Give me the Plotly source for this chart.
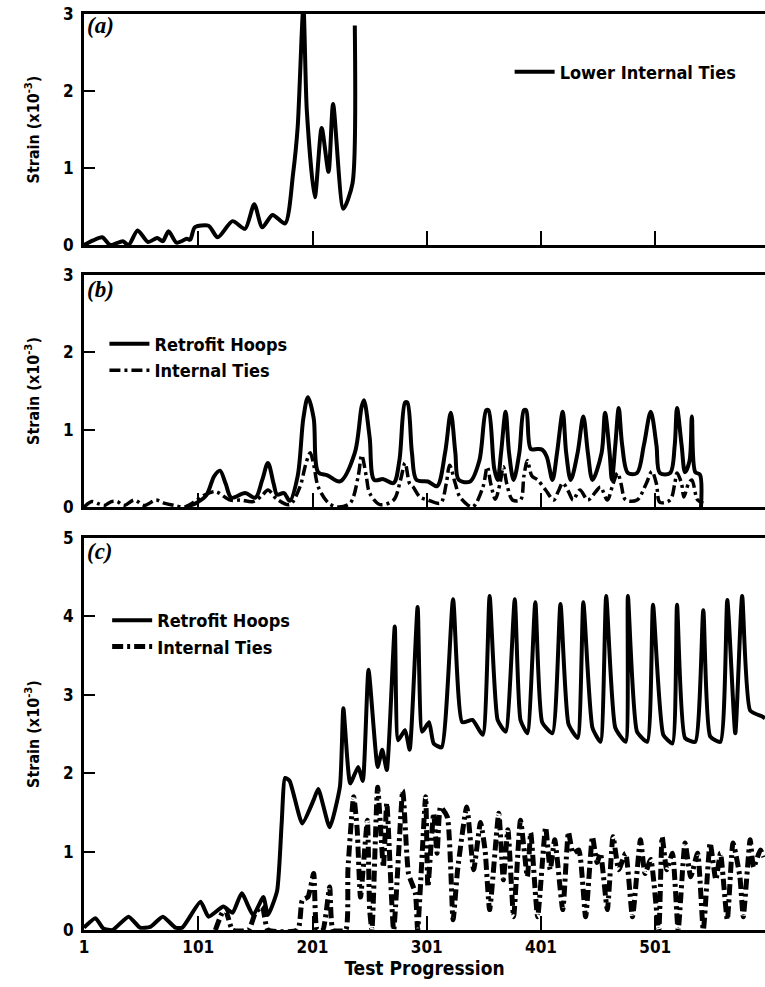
import plotly.graph_objects as go

# ---------------- data ----------------
# Panel (a): Lower internal ties
a_x = [1, 9, 17, 24, 35, 40, 48, 57, 65, 70, 75, 82, 91, 94, 98, 110, 118, 131, 142, 150,
       157, 166, 177, 184, 188, 193, 196, 203, 209, 215, 219, 228, 236, 238]
a_ties = [0, 0.06, 0.1, 0, 0.05, 0, 0.19, 0.04, 0.09, 0.05, 0.18, 0.03, 0.08, 0.07, 0.23, 0.25,
          0.1, 0.31, 0.21, 0.53, 0.23, 0.39, 0.28, 0.93, 1.53, 3.1, 1.75, 0.62, 1.52, 0.95, 1.83,
          0.47, 0.8, 2.85]

# Panel (b): Retrofit hoops
b_hoop_x = [90, 99, 108, 115, 120, 125, 130, 142, 151, 157, 162, 167, 170, 176, 181, 188, 193,
            197, 202, 206, 214, 225, 238, 244, 246, 251, 255, 263, 272, 277, 282, 284, 288, 292,
            302, 310, 317, 322, 326, 329, 339, 347, 353, 355, 360, 363, 366, 370, 373, 377, 382,
            386, 388, 392, 398, 402, 406, 411, 415, 420, 423, 427, 433, 438, 442, 446, 454, 457,
            461, 463, 466, 469, 472, 477, 485, 491, 497, 502, 505, 514, 518, 520, 524, 527, 531,
            533, 536, 540, 541]
b_hoop = [0.0, 0.05, 0.15, 0.4, 0.47, 0.3, 0.12, 0.18, 0.12, 0.35, 0.57, 0.3, 0.16, 0.18, 0.08,
          0.4, 1.15, 1.42, 1.15, 0.45, 0.41, 0.33, 0.7, 1.3, 1.38, 0.9, 0.35, 0.36, 0.31, 0.6,
          1.35, 1.35, 0.7, 0.35, 0.33, 0.27, 0.7, 1.22, 0.7, 0.35, 0.33, 0.6, 1.25, 1.25, 0.5,
          0.35, 0.7, 1.23, 0.7, 0.35, 0.7, 1.25, 1.25, 0.75, 0.75, 0.74, 0.65, 0.35, 0.7, 1.23,
          0.7, 0.35, 0.7, 1.17, 0.7, 0.35, 0.7, 1.22, 0.7, 0.35, 0.8, 1.28, 0.8, 0.44, 0.44, 0.8,
          1.23, 0.8, 0.44, 0.44, 0.8, 1.28, 0.8, 0.45, 0.6, 1.17, 0.45, 0.42, 0.0]

# Panel (b): Internal ties
b_tie_x = [1, 8, 14, 19, 25, 30, 36, 45, 54, 64, 71, 80, 89, 97, 106, 115, 118, 129, 138, 149,
           157, 162, 170, 181, 190, 195, 199, 202, 206, 215, 223, 234, 241, 244, 248, 251, 260,
           272, 278, 282, 286, 289, 295, 302, 313, 318, 321, 326, 330, 341, 350, 354, 357, 361,
           365, 368, 371, 376, 383, 386, 389, 393, 398, 405, 412, 416, 420, 425, 429, 435, 442,
           449, 453, 459, 464, 468, 471, 475, 485, 493, 498, 502, 505, 514, 518, 520, 524, 526,
           530, 533, 538, 543]
b_tie = [0, 0.07, 0.04, 0.02, 0.07, 0.07, 0.02, 0.09, 0.02, 0.09, 0.05, 0.02, 0, 0.06, 0.15,
         0.2, 0.19, 0.09, 0.09, 0.07, 0.15, 0.22, 0.1, 0.03, 0.26, 0.55, 0.7, 0.55, 0.26, 0.05, 0,
         0.05, 0.4, 0.67, 0.4, 0.18, 0.03, 0.09, 0.35, 0.57, 0.3, 0.26, 0.13, 0.09, 0.05, 0.3,
         0.54, 0.3, 0.13, 0, 0.25, 0.52, 0.3, 0.1, 0.3, 0.52, 0.3, 0.09, 0.09, 0.4, 0.6, 0.4,
         0.35, 0.22, 0.09, 0.2, 0.31, 0.2, 0.09, 0.22, 0.09, 0.2, 0.26, 0.09, 0.3, 0.44, 0.3,
         0.09, 0.09, 0.3, 0.46, 0.3, 0.06, 0.09, 0.3, 0.44, 0.3, 0.13, 0.3, 0.35, 0.09, 0.05]

# Panel (c): Retrofit hoops
c_hoop_x = [1, 11, 18, 26, 40, 50, 59, 70, 81, 87, 103, 110, 123, 131, 139, 149, 158, 162, 170,
            174, 177, 181, 192, 202, 206, 216, 225, 228, 234, 241, 245, 250, 258, 262, 266, 273,
            276, 282, 286, 293, 297, 303, 307, 314, 324, 332, 341, 350, 356, 363, 370, 378, 383,
            389, 396, 402, 411, 418, 425, 433, 438, 446, 453, 458, 466, 475, 477, 485, 494, 499,
            508, 516, 520, 527, 536, 543, 549, 558, 564, 571, 577, 584, 595, 597]
c_hoop = [0.03, 0.15, 0.02, 0, 0.17, 0.03, 0.04, 0.17, 0.03, 0.03, 0.36, 0.17, 0.3, 0.22, 0.47,
          0.19, 0.42, 0.19, 0.5, 1.36, 1.94, 1.9, 1.36, 1.66, 1.8, 1.31, 1.83, 2.83, 1.87, 2.08,
          1.9, 3.32, 2.08, 2.3, 2.04, 3.87, 2.42, 2.55, 2.3, 4.12, 2.53, 2.65, 2.38, 2.33, 4.22,
          2.65, 2.68, 2.49, 4.26, 2.68, 2.53, 4.22, 2.68, 2.51, 4.18, 2.65, 2.51, 4.16, 2.63,
          2.45, 4.18, 2.58, 2.4, 4.26, 2.58, 2.4, 4.26, 2.53, 2.4, 4.15, 2.49, 2.38, 4.15, 2.45,
          2.4, 4.08, 2.47, 2.4, 4.21, 2.51, 4.26, 2.8, 2.72, 2.7]

# Panel (c): Internal ties
c_tie_x = [116, 122, 125, 131, 145, 151, 157, 162, 188, 192, 197, 202, 205, 210, 216, 219, 230,
           232, 237, 240, 243, 249, 251, 253, 258, 263, 266, 272, 280, 285, 291, 293, 300, 302,
           307, 310, 313, 319, 324, 328, 336, 342, 348, 352, 356, 364, 368, 372, 377, 383, 389,
           392, 398, 405, 409, 413, 420, 425, 429, 434, 440, 446, 450, 453, 459, 464, 469, 475,
           481, 488, 492, 497, 504, 507, 511, 516, 521, 527, 532, 538, 543, 549, 554, 558, 564,
           569, 575, 578, 584, 587, 593, 596]
c_tie = [0, 0.22, 0.25, 0, 0, 0.22, 0.3, 0, 0, 0.38, 0.42, 0.72, 0, 0, 0.55, 0, 0, 0.77, 1.7,
         1.3, 0.42, 1.4, 0.26, 0, 1.82, 0.8, 1.62, 0, 1.78, 0.72, 0.47, 0, 1.7, 0.55, 1.49, 0.98,
         1.57, 1.44, 0.13, 0.77, 1.57, 0.77, 1.37, 1.02, 0.26, 1.49, 0.64, 1.28, 0.17, 1.4, 0.68,
         1.24, 0.17, 1.31, 0.77, 1.15, 0.26, 1.25, 0.98, 1.02, 0.17, 1.19, 0.86, 0.98, 0.26,
         1.19, 0.77, 0.98, 0.17, 1.15, 0.72, 0.9, 0, 1.19, 0.77, 0.98, 0, 1.11, 0.68, 0.98, 0,
         1.11, 0.64, 0.98, 0.13, 1.11, 0.68, 0.17, 1.15, 0.8, 1.02, 0.93]

x_tick_vals = [1, 101, 201, 301, 401, 501]
x_tick_text = ["1", "101", "201", "301", "401", "501"]
x_range = [1, 597]

# ---------------- style ----------------
SANS = "Liberation Sans Narrow, DejaVu Sans Condensed, Arial Narrow, sans-serif"
SERIF = "Liberation Serif, Times New Roman, serif"
INK = "black"
DASHDOT = "11px,4px,3px,4px"

fig = go.Figure()

fig.add_trace(go.Scatter(x=a_x, y=a_ties, mode="lines", name="Lower Internal Ties",
                         line=dict(color=INK, width=4, shape="spline", smoothing=0.7),
                         xaxis="x", yaxis="y", legend="legend"))
fig.add_trace(go.Scatter(x=b_hoop_x, y=b_hoop, mode="lines", name="Retrofit Hoops",
                         line=dict(color=INK, width=4, shape="spline", smoothing=0.9),
                         xaxis="x2", yaxis="y2", legend="legend2"))
fig.add_trace(go.Scatter(x=b_tie_x, y=b_tie, mode="lines", name="Internal Ties",
                         line=dict(color=INK, width=3.5, dash=DASHDOT, shape="spline",
                                   smoothing=0.9),
                         xaxis="x2", yaxis="y2", legend="legend2"))
fig.add_trace(go.Scatter(x=c_hoop_x, y=c_hoop, mode="lines", name="Retrofit Hoops",
                         line=dict(color=INK, width=4, shape="spline", smoothing=0.5),
                         xaxis="x3", yaxis="y3", legend="legend3"))
fig.add_trace(go.Scatter(x=c_tie_x, y=c_tie, mode="lines", name="Internal Ties",
                         line=dict(color=INK, width=5, dash=DASHDOT, shape="spline",
                                   smoothing=0.5),
                         xaxis="x3", yaxis="y3", legend="legend3"))

tickfont = dict(family=SANS, size=17, color=INK, weight="bold")
ytitle = dict(text="Strain (x10<sup>-3</sup>)", font=dict(family=SANS, size=16, color=INK,
                                                            weight="bold"), standoff=20)


def xaxis(anchor, labels):
    return dict(domain=[0, 1], anchor=anchor, range=x_range, showgrid=False, zeroline=False,
                showline=True, linewidth=3, linecolor=INK, mirror=True,
                ticks="inside", ticklen=14, tickwidth=2, tickcolor=INK,
                tickvals=x_tick_vals, ticktext=x_tick_text, showticklabels=labels,
                tickfont=tickfont)


def yaxis(anchor, dom, rng, dt):
    return dict(domain=dom, anchor=anchor, range=rng, dtick=dt, showgrid=False, zeroline=False,
                showline=True, linewidth=3, linecolor=INK, ticks="inside", ticklen=11,
                tickwidth=2, tickcolor=INK, tickfont=tickfont, ticklabelstandoff=4,
                title=ytitle)


legend_font = dict(family=SANS, size=18, color=INK, weight="bold")
leg_common = dict(bgcolor="rgba(0,0,0,0)", borderwidth=0, font=legend_font, itemwidth=40,
                  xanchor="left", yanchor="middle", itemclick=False, itemdoubleclick=False)

fig.update_layout(
    width=765, height=987,
    margin=dict(l=84, r=0, t=14, b=57),
    paper_bgcolor="white", plot_bgcolor="white",
    xaxis=xaxis("y", False),
    xaxis2=xaxis("y2", False),
    xaxis3={**xaxis("y3", True),
            "title": dict(text="Test Progression",
                          font=dict(family=SANS, size=19, color=INK, weight="bold"),
                          standoff=6)},
    yaxis=yaxis("x", [0.7478, 1.0], [0, 3], 1),
    yaxis2=yaxis("x2", [0.4618, 0.7151], [0, 3], 1),
    yaxis3=yaxis("x3", [0.0, 0.4279], [0, 5], 1),
    legend={**leg_common, "x": 0.625, "y": 0.9367},
    legend2={**leg_common, "x": 0.03, "y": 0.6255},
    legend3={**leg_common, "x": 0.034, "y": 0.3237},
    showlegend=True,
)

for txt, yy in [("(a)", 0.9869), ("(b)", 0.6987), ("(c)", 0.4127)]:
    fig.add_annotation(text="<b><i>" + txt + "</i></b>", xref="paper", yref="paper",
                       x=0.0, y=yy, xanchor="left", yanchor="middle", showarrow=False,
                       font=dict(family=SERIF, size=23, color=INK), xshift=1)

fig.write_html("out.html")
